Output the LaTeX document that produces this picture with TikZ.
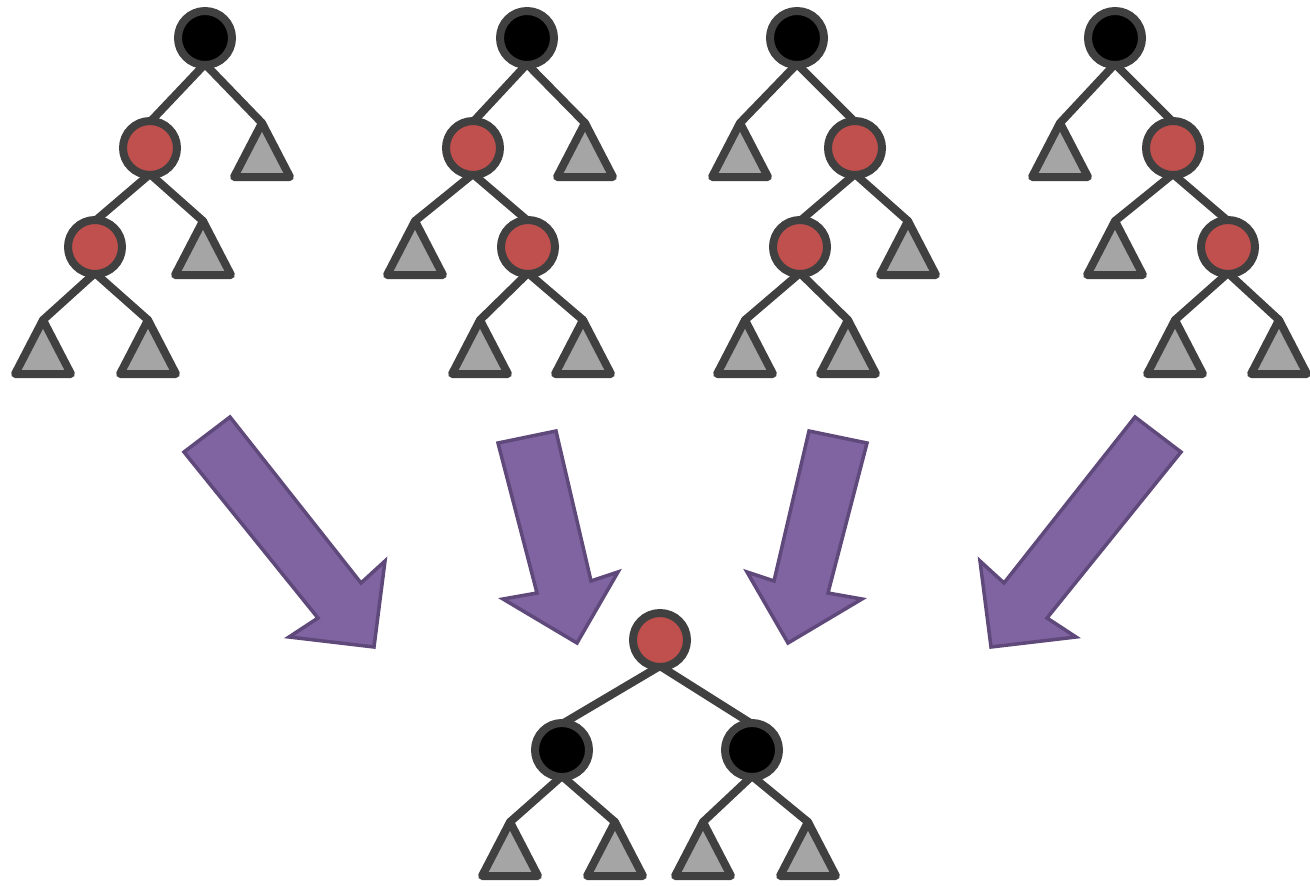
\documentclass[tikz,border=0pt]{standalone}
\usetikzlibrary{shadows}
\definecolor{lc}{HTML}{404040}
\definecolor{rd}{HTML}{C0504D}
\definecolor{gr}{HTML}{A5A5A5}
\definecolor{pu}{HTML}{8064A2}
\definecolor{pb}{HTML}{5F497A}
\tikzset{
  edge/.style={draw=lc, line width=8pt, line cap=round},
  shad/.style={drop shadow={shadow xshift=2pt, shadow yshift=-2.5pt, opacity=0.22, fill=black}},
  bnode/.style={circle, draw=lc, line width=8pt, fill=black, minimum size=54pt, inner sep=0pt, outer sep=0pt, shad},
  rnode/.style={circle, draw=lc, line width=8pt, fill=rd, minimum size=54pt, inner sep=0pt, outer sep=0pt, shad},
  tri/.style={draw=lc, fill=gr, line width=8pt, line join=round, shad},
  arr/.style={draw=pb, fill=pu, line width=3.5pt, line join=miter}
}
\newcommand{\mytri}[3]{\coordinate (#1) at (#2,#3);}
\newcommand{\mypt}[3]{\coordinate (#1) at (#2,#3); \coordinate (#1-t) at (#2,#3-26); \coordinate (#1-b) at (#2,#3+26);}
\newcommand{\drawtri}[1]{\draw[tri] (#1) -- ++(-28,54) -- ++(56,0) -- cycle;}
\begin{document}
\begin{tikzpicture}[x=1pt,y=-1pt]
\useasboundingbox (0,0) rectangle (1310,886);
% ---- coordinates ----
% tree 1
\mypt{a0}{205}{38}\mypt{a1}{150}{148}\mypt{a2}{95}{247}
\mytri{at1}{262}{123}\mytri{at2}{203}{221}\mytri{at3}{43}{320}\mytri{at4}{148}{320}
% tree 2
\mypt{b0}{527}{38}\mypt{b1}{473}{148}\mypt{b2}{528}{247}
\mytri{bt1}{585}{123}\mytri{bt2}{415}{221}\mytri{bt3}{480}{320}\mytri{bt4}{583}{320}
% tree 3
\mypt{c0}{797}{38}\mypt{c1}{855}{148}\mypt{c2}{800}{247}
\mytri{ct1}{740}{123}\mytri{ct2}{908}{221}\mytri{ct3}{745}{320}\mytri{ct4}{848}{320}
% tree 4
\mypt{d0}{1115}{38}\mypt{d1}{1173}{148}\mypt{d2}{1228}{247}
\mytri{dt1}{1060}{123}\mytri{dt2}{1115}{221}\mytri{dt3}{1175}{320}\mytri{dt4}{1279}{320}
% bottom tree
\mypt{e0}{660}{640}\mypt{e1}{562}{750}\mypt{e2}{752}{750}
\mytri{et1}{510}{822}\mytri{et2}{615}{822}\mytri{et3}{703}{822}\mytri{et4}{808}{822}
% ---- edges ----
\draw[edge] (a0-b)--(a1-t); \draw[edge] (a0-b)--(at1); \draw[edge] (a1-b)--(a2-t); \draw[edge] (a1-b)--(at2);
\draw[edge] (a2-b)--(at3); \draw[edge] (a2-b)--(at4);
\draw[edge] (b0-b)--(b1-t); \draw[edge] (b0-b)--(bt1); \draw[edge] (b1-b)--(bt2); \draw[edge] (b1-b)--(b2-t);
\draw[edge] (b2-b)--(bt3); \draw[edge] (b2-b)--(bt4);
\draw[edge] (c0-b)--(ct1); \draw[edge] (c0-b)--(c1-t); \draw[edge] (c1-b)--(c2-t); \draw[edge] (c1-b)--(ct2);
\draw[edge] (c2-b)--(ct3); \draw[edge] (c2-b)--(ct4);
\draw[edge] (d0-b)--(dt1); \draw[edge] (d0-b)--(d1-t); \draw[edge] (d1-b)--(dt2); \draw[edge] (d1-b)--(d2-t);
\draw[edge] (d2-b)--(dt3); \draw[edge] (d2-b)--(dt4);
\draw[edge] (e0-b)--(e1-t); \draw[edge] (e0-b)--(e2-t); \draw[edge] (e1-b)--(et1); \draw[edge] (e1-b)--(et2);
\draw[edge] (e2-b)--(et3); \draw[edge] (e2-b)--(et4);
% ---- triangles ----
\foreach \t in {at1,at2,at3,at4,bt1,bt2,bt3,bt4,ct1,ct2,ct3,ct4,dt1,dt2,dt3,dt4,et1,et2,et3,et4}{\drawtri{\t}}
% ---- circles ----
\node[bnode] (na0) at (a0) {}; \node[rnode] (na1) at (a1) {}; \node[rnode] (na2) at (a2) {};
\node[bnode] (nb0) at (b0) {}; \node[rnode] (nb1) at (b1) {}; \node[rnode] (nb2) at (b2) {};
\node[bnode] (nc0) at (c0) {}; \node[rnode] (nc1) at (c1) {}; \node[rnode] (nc2) at (c2) {};
\node[bnode] (nd0) at (d0) {}; \node[rnode] (nd1) at (d1) {}; \node[rnode] (nd2) at (d2) {};
\node[rnode] (ne0) at (e0) {}; \node[bnode] (ne1) at (e1) {}; \node[bnode] (ne2) at (e2) {};
% ---- block arrows ----
\draw[arr] (184,452) -- (230,417) -- (361,583) -- (385,561) -- (374,647) -- (289,637) -- (318,618) -- cycle;
\draw[arr] (498,443) -- (556,431) -- (591,581) -- (618,572) -- (577,643) -- (503,599) -- (537,593) -- cycle;
\draw[arr] (867,443) -- (809,431) -- (774,581) -- (747,572) -- (788,643) -- (862,599) -- (828,593) -- cycle;
\draw[arr] (1181,452) -- (1135,417) -- (1004,583) -- (980,561) -- (991,647) -- (1076,637) -- (1047,618) -- cycle;
\end{tikzpicture}
\end{document}
